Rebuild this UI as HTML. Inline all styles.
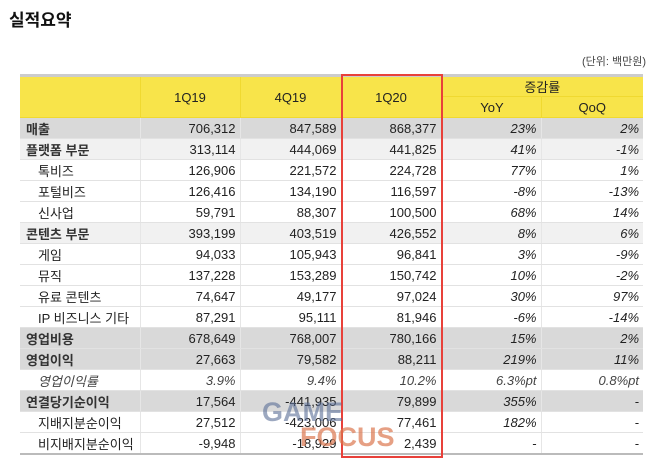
<!DOCTYPE html>
<html><head><meta charset="utf-8"><style>
body{margin:0;width:660px;height:459px;background:#fff;font-family:"Liberation Sans","Noto Sans CJK KR",sans-serif;position:relative;overflow:hidden;color:#222}
.t{position:absolute;left:9px;top:6px;font-size:17px;font-weight:bold;color:#111}
.u{position:absolute;right:14px;top:53px;font-size:11px;color:#444}
table{position:absolute;left:20px;top:74px;border-collapse:collapse;width:623px;font-size:13px;table-layout:fixed}
td{height:20px;padding:0 4px;border-bottom:1px solid #e2e2e2;border-right:1px solid #e6e6e6;text-align:right;white-space:nowrap}
td:last-child{border-right:none}
td:first-child{text-align:left;padding-left:6px}
thead td{background:#f8e44a;text-align:center!important;border-color:#f0d930;font-size:13px;font-style:normal!important}
tr.g td{background:#d9d9d9}
tr.l td{background:#f1f1f1}
tbody td:nth-child(n+5){font-style:italic}
tr.g td:first-child,tr.l td:first-child{font-weight:bold;color:#333}
td.in{padding-left:18px}
.red{position:absolute;left:341px;top:74px;width:98px;height:380px;border:2px solid #e8413a}
.wm{position:absolute;left:262px;top:397px;font:bold 27px "Liberation Sans",sans-serif;color:rgba(90,110,150,.6)}
.wm2{position:absolute;left:300px;top:422px;font:bold 27px "Liberation Sans",sans-serif;color:rgba(220,120,80,.7)}
</style></head><body>
<div class="t">실적요약</div>
<div class="u">(단위: 백만원)</div>
<table>
<colgroup><col style="width:120px"><col style="width:100px"><col style="width:101px"><col style="width:100px"><col style="width:100px"><col style="width:102px"></colgroup>
<thead>
<tr><td rowspan="2" style="border-top:3px solid #ccc"></td><td rowspan="2" style="border-top:3px solid #ccc">1Q19</td><td rowspan="2" style="border-top:3px solid #ccc">4Q19</td><td rowspan="2" style="border-top:3px solid #ccc">1Q20</td><td colspan="2" style="height:18px;border-top:3px solid #ccc">증감률</td></tr>
<tr><td style="height:18px">YoY</td><td>QoQ</td></tr>
</thead>
<tbody>
<tr class="g"><td>매출</td><td>706,312</td><td>847,589</td><td>868,377</td><td>23%</td><td>2%</td></tr>
<tr class="l"><td>플랫폼 부문</td><td>313,114</td><td>444,069</td><td>441,825</td><td>41%</td><td>-1%</td></tr>
<tr><td class="in">톡비즈</td><td>126,906</td><td>221,572</td><td>224,728</td><td>77%</td><td>1%</td></tr>
<tr><td class="in">포털비즈</td><td>126,416</td><td>134,190</td><td>116,597</td><td>-8%</td><td>-13%</td></tr>
<tr><td class="in">신사업</td><td>59,791</td><td>88,307</td><td>100,500</td><td>68%</td><td>14%</td></tr>
<tr class="l"><td>콘텐츠 부문</td><td>393,199</td><td>403,519</td><td>426,552</td><td>8%</td><td>6%</td></tr>
<tr><td class="in">게임</td><td>94,033</td><td>105,943</td><td>96,841</td><td>3%</td><td>-9%</td></tr>
<tr><td class="in">뮤직</td><td>137,228</td><td>153,289</td><td>150,742</td><td>10%</td><td>-2%</td></tr>
<tr><td class="in">유료 콘텐츠</td><td>74,647</td><td>49,177</td><td>97,024</td><td>30%</td><td>97%</td></tr>
<tr><td class="in">IP 비즈니스 기타</td><td>87,291</td><td>95,111</td><td>81,946</td><td>-6%</td><td>-14%</td></tr>
<tr class="g"><td>영업비용</td><td>678,649</td><td>768,007</td><td>780,166</td><td>15%</td><td>2%</td></tr>
<tr class="g"><td>영업이익</td><td>27,663</td><td>79,582</td><td>88,211</td><td>219%</td><td>11%</td></tr>
<tr style="font-style:italic;color:#444"><td class="in">영업이익률</td><td>3.9%</td><td>9.4%</td><td>10.2%</td><td>6.3%pt</td><td>0.8%pt</td></tr>
<tr class="g"><td>연결당기순이익</td><td>17,564</td><td>-441,935</td><td>79,899</td><td>355%</td><td>-</td></tr>
<tr><td class="in">지배지분순이익</td><td>27,512</td><td>-423,006</td><td>77,461</td><td>182%</td><td>-</td></tr>
<tr><td class="in" style="border-bottom:2px solid #bbb">비지배지분순이익</td><td style="border-bottom:2px solid #bbb">-9,948</td><td style="border-bottom:2px solid #bbb">-18,929</td><td style="border-bottom:2px solid #bbb">2,439</td><td style="border-bottom:2px solid #bbb">-</td><td style="border-bottom:2px solid #bbb">-</td></tr>
</tbody>
</table>
<div class="red"></div>
<div class="wm">GAME</div><div class="wm2">FOCUS</div>
</body></html>
